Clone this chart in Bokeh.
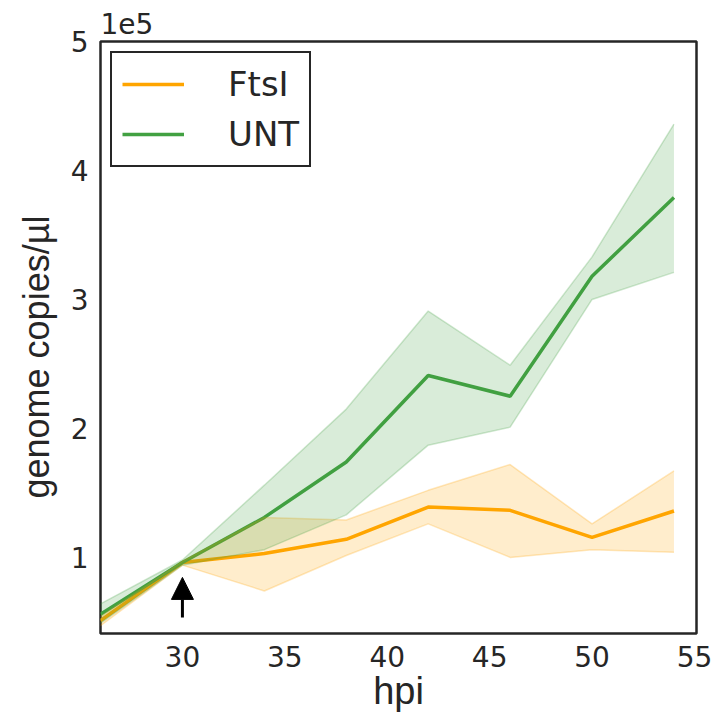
from bokeh.plotting import figure
from bokeh.models import (ColumnDataSource, Band, Legend, LegendItem, Title,
                          Arrow, NormalHead, FixedTicker, Range1d)
from bokeh.embed import file_html
from bokeh.resources import INLINE

# hours post infection
hpi = [26, 30, 34, 38, 42, 46, 50, 54]

# genome copies/µl, in units of 1e5
unt_mean = [0.56, 0.96, 1.31, 1.74, 2.41, 2.25, 3.18, 3.79]
unt_lo = [0.49, 0.94, 1.06, 1.33, 1.87, 2.01, 3.00, 3.21]
unt_hi = [0.64, 0.98, 1.56, 2.15, 2.91, 2.49, 3.33, 4.36]

ftsi_mean = [0.51, 0.96, 1.03, 1.14, 1.39, 1.365, 1.155, 1.36]
ftsi_lo = [0.47, 0.94, 0.74, 1.015, 1.26, 1.00, 1.06, 1.04]
ftsi_hi = [0.54, 0.97, 1.31, 1.29, 1.52, 1.72, 1.26, 1.67]

y_ticks = [1, 2, 3, 4, 5]
x_ticks = [30, 35, 40, 45, 50, 55]
scale = 1e5

# treatment time marked by the arrow
treat_hpi = 30
arrow_from, arrow_to = 0.535, 0.845

ORANGE = "#FFA500"
GREEN = "#42A142"
DARK = "#262626"

def scaled(vals):
    return [v * scale for v in vals]

p = figure(width=714, height=720, output_backend="svg", toolbar_location=None,
           x_range=Range1d(26, 55.1), y_range=Range1d(0.41 * scale, 5 * scale),
           min_border_left=100, min_border_right=18, min_border_top=41,
           min_border_bottom=87)
p.background_fill_color = "white"
p.border_fill_color = "white"
p.grid.visible = False
p.outline_line_color = DARK
p.outline_line_width = 2.5
p.outline_line_alpha = 1

# exponent marker above the y axis
p.add_layout(Title(text="1e5", align="left", vertical_align="bottom",
                   text_font="DejaVu Sans", text_font_size="28px",
                   text_font_style="normal", text_color=DARK, standoff=16), "above")

src_f = ColumnDataSource(dict(x=hpi, y=scaled(ftsi_mean), lo=scaled(ftsi_lo), hi=scaled(ftsi_hi)))
src_u = ColumnDataSource(dict(x=hpi, y=scaled(unt_mean), lo=scaled(unt_lo), hi=scaled(unt_hi)))

band_f = Band(base="x", lower="lo", upper="hi", source=src_f, level="glyph",
              fill_color=ORANGE, fill_alpha=0.2, line_color=ORANGE, line_alpha=0.25, line_width=1.5)
p.add_layout(band_f)
r_f = p.line("x", "y", source=src_f, line_color=ORANGE, line_width=3.5)

band_u = Band(base="x", lower="lo", upper="hi", source=src_u, level="glyph",
              fill_color=GREEN, fill_alpha=0.2, line_color=GREEN, line_alpha=0.25, line_width=1.5)
p.add_layout(band_u)
r_u = p.line("x", "y", source=src_u, line_color=GREEN, line_width=3.5)

# axes
for ax in (p.xaxis[0], p.yaxis[0]):
    ax.axis_line_color = None
    ax.major_tick_line_color = None
    ax.minor_tick_line_color = None
    ax.major_tick_out = 0
    ax.major_tick_in = 0
    ax.minor_tick_out = 0
    ax.minor_tick_in = 0
    ax.major_label_text_font = "DejaVu Sans"
    ax.major_label_text_font_size = "28px"
    ax.major_label_text_color = DARK

p.xaxis.ticker = FixedTicker(ticks=x_ticks)
p.yaxis.ticker = FixedTicker(ticks=scaled(y_ticks))
p.yaxis.major_label_overrides = {t * scale: str(t) for t in y_ticks}
p.xaxis.major_label_standoff = 12
p.yaxis.major_label_standoff = 12

p.xaxis.axis_label = "hpi"
p.xaxis.axis_label_text_font = "Liberation Sans"
p.xaxis.axis_label_text_font_style = "normal"
p.xaxis.axis_label_text_color = DARK
p.xaxis.axis_label_text_font_size = "38px"
p.xaxis.axis_label_standoff = 0

# y axis title, anchored from the bottom of the frame
p.add_layout(Title(text="genome copies/µl", align="left", offset=135,
                   text_font="Liberation Sans", text_font_size="36px",
                   text_font_style="normal", text_color=DARK, standoff=22), "left")

# arrow marking the treatment time
p.add_layout(Arrow(x_start=treat_hpi, y_start=arrow_from * scale,
                   x_end=treat_hpi, y_end=arrow_to * scale,
                   line_color="black", line_width=3,
                   end=NormalHead(size=22, fill_color="black", line_color="black", line_width=1)))

legend = Legend(items=[LegendItem(label="FtsI", renderers=[r_f]),
                       LegendItem(label="UNT", renderers=[r_u])],
                location="top_left", margin=10, padding=10, spacing=8,
                glyph_width=62, glyph_height=42, label_height=42, label_standoff=44,
                label_text_font="DejaVu Sans", label_text_font_size="34px",
                label_text_color=DARK, border_line_color=DARK, border_line_width=2.5,
                border_line_alpha=1, background_fill_alpha=1)
p.add_layout(legend)

open("out.html", "w").write(file_html(p, INLINE))
